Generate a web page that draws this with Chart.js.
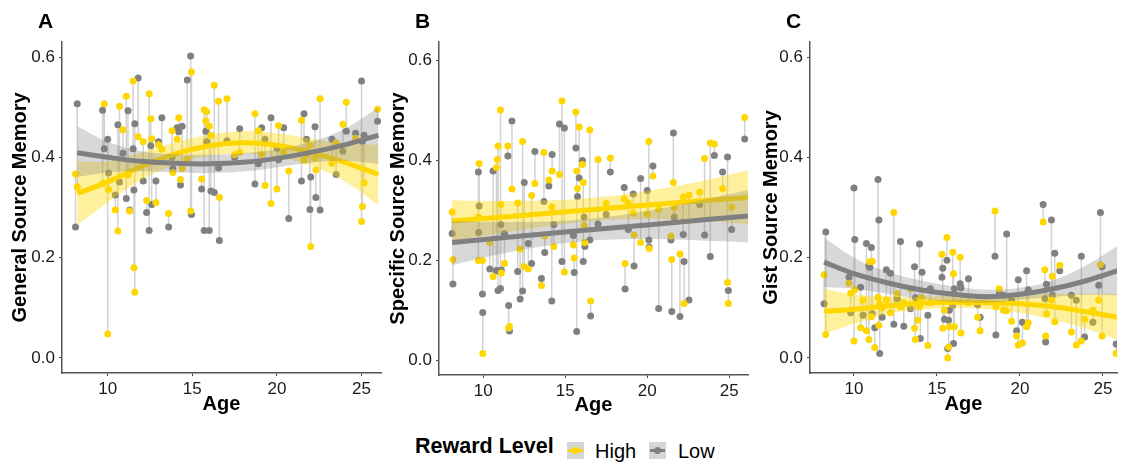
<!DOCTYPE html>
<html>
<head>
<meta charset="utf-8">
<script src="https://cdn.jsdelivr.net/npm/chart.js@4/dist/chart.umd.min.js"></script>
<style>
  body { margin: 0; width: 1121px; height: 464px; background: #fff; position: relative; overflow: hidden;
         font-family: "Liberation Sans", Arial, sans-serif; color: #000; }
  canvas { position: absolute; top: 0; }
  .tag { position: absolute; top: 10px; font-weight: bold; font-size: 21px; line-height: 1; }
  .leg { position: absolute; font-size: 20px; line-height: 1; }
  .key { position: absolute; top: 442px; width: 17px; height: 17px; background: #d6d6d6; }
  .key span { position: absolute; left: 1px; right: 1px; top: 7px; height: 3px; }
  .key i { position: absolute; left: 5px; top: 5px; width: 7px; height: 7px; border-radius: 50%; }
</style>
</head>
<body>
<canvas id="chartA" width="385" height="420" style="left:0px"></canvas>
<canvas id="chartB" width="372" height="420" style="left:380px"></canvas>
<canvas id="chartC" width="369" height="420" style="left:752px"></canvas>
<div class="tag" style="left:38px">A</div>
<div class="tag" style="left:415px">B</div>
<div class="tag" style="left:786px">C</div>
<div class="leg" style="left:415px;top:436px;font-weight:bold;font-size:21.5px">Reward Level</div>
<div class="key" style="left:567px"><span style="background:#FFD700"></span><i style="background:#FFD700"></i></div>
<div class="leg" style="left:595px;top:441px">High</div>
<div class="key" style="left:649px"><span style="background:#808080"></span><i style="background:#808080"></i></div>
<div class="leg" style="left:678px;top:441px">Low</div>
<script>
// tick labels
const AGE_TICKS = [10, 15, 20, 25];
const MEM_TICKS = [0, 0.2, 0.4, 0.6];

// Panel A - General source memory (one entry per participant)
const agesA = [8.2, 8.1, 9.7, 9.8, 10.0, 10.05, 10.45, 10.6, 10.7, 10.9, 11.1, 11.2, 11.3, 11.5, 11.55, 11.6, 11.8,
  12.1, 12.3, 12.45, 12.55, 12.6, 12.85, 13.0, 13.2, 13.6, 13.8, 13.85, 14.1, 14.2, 14.3, 14.4, 14.7, 14.9, 14.95,
  15.55, 15.7, 15.8, 15.85, 16.0, 16.1, 16.3, 16.55, 16.6, 17.05, 17.5, 17.8, 18.7, 18.9, 19.1, 19.3, 19.65, 20.0,
  20.1, 20.4, 20.7, 21.45, 21.6, 21.75, 21.95, 22.0, 22.25, 22.3, 22.55, 23.25, 23.5, 23.9, 24.1, 24.65, 25.0, 25.05,
  25.15, 25.95];
const highA = [0.341, 0.367, 0.348, 0.507, 0.048, 0.336, 0.295, 0.253, 0.502, 0.455, 0.522, 0.365, 0.293, 0.552, 0.180,
  0.131, 0.441, 0.431, 0.314, 0.527, 0.477, 0.437, 0.310, 0.425, 0.416, 0.288, 0.453, 0.370, 0.436, 0.479, 0.356,
  0.378, 0.396, 0.293, 0.570, 0.357, 0.495, 0.473, 0.491, 0.462, 0.444, 0.544, 0.512, 0.320, 0.517, 0.405, 0.410,
  0.487, 0.453, 0.406, 0.344, 0.308, 0.337, 0.463, 0.410, 0.373, 0.474, 0.394, 0.405, 0.424, 0.222, 0.398, 0.375,
  0.517, 0.388, 0.429, 0.466, 0.510, 0.438, 0.272, 0.302, 0.349, 0.496];
const lowA = [0.507, 0.261, 0.494, 0.417, 0.436, 0.369, 0.325, 0.465, 0.351, 0.408, 0.318, 0.493, 0.295, 0.417, 0.335,
  0.467, 0.558, 0.353, 0.290, 0.254, 0.423, 0.306, 0.353, 0.431, 0.479, 0.261, 0.400, 0.378, 0.459, 0.451, 0.345,
  0.462, 0.554, 0.602, 0.286, 0.337, 0.254, 0.452, 0.431, 0.254, 0.333, 0.330, 0.379, 0.234, 0.433, 0.400, 0.457,
  0.347, 0.387, 0.459, 0.436, 0.479, 0.418, 0.395, 0.459, 0.278, 0.353, 0.487, 0.436, 0.296, 0.361, 0.461, 0.320,
  0.295, 0.436, 0.366, 0.412, 0.452, 0.448, 0.552, 0.432, 0.444, 0.472];
const fitAgesA = [8.2, 10, 12, 14, 16, 18, 20, 22, 24, 26];
const fitHighA = [0.328, 0.351, 0.382, 0.407, 0.423, 0.429, 0.424, 0.410, 0.390, 0.366];
const fitHighLoA = [0.265, 0.310, 0.355, 0.385, 0.403, 0.407, 0.400, 0.383, 0.352, 0.305];
const fitHighUpA = [0.392, 0.392, 0.410, 0.430, 0.445, 0.452, 0.448, 0.437, 0.428, 0.425];
const fitLowA = [0.409, 0.400, 0.392, 0.388, 0.387, 0.390, 0.398, 0.410, 0.425, 0.444];
const fitLowLoA = [0.361, 0.370, 0.372, 0.370, 0.369, 0.372, 0.380, 0.389, 0.393, 0.387];
const fitLowUpA = [0.462, 0.431, 0.412, 0.406, 0.405, 0.408, 0.416, 0.431, 0.457, 0.500];

// Panel B - Specific source memory
const agesB = [8.1, 8.15, 9.7, 9.72, 9.75, 9.95, 9.97, 10.4, 10.6, 10.8, 10.85, 10.9, 11.05, 11.07, 11.1, 11.3, 11.5,
  11.55, 11.6, 11.75, 12.1, 12.25, 12.4, 12.5, 12.75, 12.95, 13.15, 13.55, 13.7, 13.75, 14.0, 14.2, 14.18, 14.3,
  14.65, 14.8, 14.95, 15.5, 15.55, 15.65, 15.7, 15.75, 15.85, 16.05, 16.1, 16.15, 16.2, 16.5, 16.55, 17.0, 17.5,
  17.75, 18.6, 18.65, 18.85, 19.15, 19.2, 19.6, 20.0, 20.1, 20.12, 20.35, 20.7, 21.45, 21.5, 21.6, 21.65, 22.0,
  22.2, 22.25, 22.55, 23.2, 23.5, 23.85, 24.1, 24.6, 24.9, 24.95, 25.15, 25.95];
const highB = [0.296, 0.201, 0.199, 0.286, 0.393, 0.199, 0.013, 0.235, 0.167, 0.385, 0.401, 0.428, 0.500, 0.311, 0.174,
  0.193, 0.428, 0.064, 0.067, 0.342, 0.314, 0.222, 0.437, 0.187, 0.182, 0.329, 0.353, 0.149, 0.415, 0.248, 0.360,
  0.378, 0.306, 0.227, 0.371, 0.518, 0.176, 0.230, 0.204, 0.496, 0.378, 0.343, 0.466, 0.391, 0.355, 0.269, 0.235,
  0.460, 0.118, 0.401, 0.313, 0.404, 0.322, 0.193, 0.314, 0.294, 0.250, 0.235, 0.292, 0.437, 0.223, 0.368, 0.301,
  0.248, 0.201, 0.355, 0.305, 0.212, 0.326, 0.113, 0.330, 0.336, 0.403, 0.434, 0.432, 0.343, 0.155, 0.113, 0.306,
  0.485];
const lowB = [0.253, 0.152, 0.376, 0.255, 0.308, 0.132, 0.095, 0.182, 0.378, 0.179, 0.178, 0.139, 0.143, 0.271, 0.180,
  0.253, 0.408, 0.109, 0.058, 0.478, 0.177, 0.122, 0.138, 0.355, 0.233, 0.193, 0.417, 0.163, 0.317, 0.215, 0.348,
  0.411, 0.118, 0.271, 0.472, 0.197, 0.464, 0.249, 0.175, 0.424, 0.057, 0.327, 0.364, 0.399, 0.197, 0.286, 0.227,
  0.240, 0.088, 0.272, 0.291, 0.376, 0.345, 0.142, 0.261, 0.332, 0.188, 0.363, 0.339, 0.240, 0.226, 0.388, 0.103,
  0.240, 0.097, 0.454, 0.286, 0.087, 0.251, 0.197, 0.120, 0.311, 0.250, 0.207, 0.409, 0.376, 0.406, 0.139, 0.261,
  0.442];
const fitAgesB = [8.1, 12, 16, 20, 24, 26.2];
const fitHighB = [0.278, 0.288, 0.299, 0.310, 0.320, 0.325];
const fitHighLoB = [0.238, 0.258, 0.276, 0.282, 0.277, 0.272];
const fitHighUpB = [0.319, 0.318, 0.323, 0.338, 0.363, 0.380];
const fitLowB = [0.235, 0.247, 0.259, 0.270, 0.282, 0.288];
const fitLowLoB = [0.190, 0.218, 0.237, 0.242, 0.238, 0.235];
const fitLowUpB = [0.278, 0.276, 0.281, 0.298, 0.325, 0.340];

// Panel C - Gist source memory
const agesC = [8.2, 8.3, 9.7, 9.8, 10.0, 10.05, 10.4, 10.55, 10.75, 10.9, 10.95, 11.05, 11.1, 11.25, 11.45, 11.5, 11.55,
  11.7, 11.95, 12.2, 12.4, 12.6, 12.8, 13.0, 13.4, 13.65, 13.7, 13.85, 13.95, 14.0, 14.1, 14.45, 14.6, 15.3, 15.35,
  15.45, 15.6, 15.65, 15.7, 15.75, 15.95, 16.0, 16.05, 16.4, 16.45, 16.9, 17.45, 17.6, 18.5, 18.55, 18.75, 19.0,
  19.2, 19.5, 19.8, 19.9, 20.15, 20.4, 20.5, 21.4, 21.5, 21.55, 21.6, 21.9, 21.95, 22.1, 22.4, 23.1, 23.4, 23.7,
  23.9, 24.4, 24.75, 24.85, 24.95, 25.8];
const highC = [0.166, 0.047, 0.149, 0.129, 0.034, 0.136, 0.060, 0.115, 0.054, 0.037, 0.192, 0.082, 0.193, 0.021, 0.121,
  0.065, 0.108, 0.100, 0.116, 0.090, 0.290, 0.128, 0.102, 0.110, 0.138, 0.059, 0.037, 0.075, 0.102, 0.118, 0.120,
  0.025, 0.110, 0.207, 0.059, 0.095, 0.240, 0.000, 0.022, 0.062, 0.211, 0.168, 0.062, 0.201, 0.050, 0.110, 0.081,
  0.054, 0.293, 0.102, 0.138, 0.095, 0.094, 0.073, 0.044, 0.026, 0.030, 0.062, 0.070, 0.271, 0.176, 0.044, 0.088,
  0.115, 0.163, 0.072, 0.185, 0.052, 0.026, 0.034, 0.077, 0.095, 0.115, 0.186, 0.044, 0.009];
const lowC = [0.108, 0.251, 0.161, 0.090, 0.339, 0.236, 0.141, 0.085, 0.228, 0.184, 0.181, 0.220, 0.088, 0.060, 0.356,
  0.275, 0.009, 0.081, 0.176, 0.169, 0.067, 0.118, 0.232, 0.063, 0.098, 0.182, 0.120, 0.115, 0.227, 0.039, 0.171,
  0.085, 0.138, 0.161, 0.179, 0.077, 0.195, 0.019, 0.075, 0.095, 0.105, 0.029, 0.138, 0.148, 0.140, 0.158, 0.106,
  0.081, 0.203, 0.046, 0.128, 0.125, 0.247, 0.115, 0.054, 0.156, 0.071, 0.174, 0.136, 0.306, 0.118, 0.032, 0.147,
  0.275, 0.125, 0.209, 0.174, 0.125, 0.115, 0.203, 0.042, 0.071, 0.145, 0.290, 0.182, 0.028];
const fitAgesC = [8.2, 10, 12, 14, 16, 18, 20, 22, 24, 25.9];
const fitHighC = [0.093, 0.097, 0.104, 0.109, 0.111, 0.110, 0.108, 0.102, 0.092, 0.081];
const fitHighLoC = [0.048, 0.068, 0.087, 0.096, 0.099, 0.097, 0.090, 0.076, 0.058, 0.036];
const fitHighUpC = [0.138, 0.127, 0.122, 0.122, 0.124, 0.123, 0.126, 0.128, 0.128, 0.128];
const fitLowC = [0.191, 0.168, 0.150, 0.136, 0.127, 0.122, 0.127, 0.138, 0.154, 0.174];
const fitLowLoC = [0.141, 0.138, 0.128, 0.118, 0.112, 0.110, 0.116, 0.122, 0.126, 0.125];
const fitLowUpC = [0.240, 0.200, 0.172, 0.155, 0.143, 0.136, 0.140, 0.155, 0.185, 0.224];

const YELLOW = "#FFD700";
const GREY = "#808080";

function pts(xs, ys) {
    return xs.map((x, i) => ({x: x, y: ys[i]}));
}

function makePanel(id, p) {
    // vertical segments joining each participant's High and Low score
    const segs = [];
    p.ages.forEach((a, i) => {
        segs.push({x: a, y: p.high[i]}, {x: a, y: p.low[i]}, {x: a, y: null});
    });
    const band = {showLine: true, pointRadius: 0, borderWidth: 0, tension: 0.4};
    const datasets = [
        // yellow ribbon + line (drawn below the grey ones)
        Object.assign({data: pts(p.fitAges, p.highLo), fill: false, order: 3}, band),
        Object.assign({data: pts(p.fitAges, p.highUp), fill: 0, backgroundColor: "rgba(255,215,0,0.38)", order: 3}, band),
        {data: pts(p.fitAges, p.highFit), showLine: true, pointRadius: 0, borderColor: YELLOW, borderWidth: 5,
         tension: 0.4, order: 2},
        Object.assign({data: pts(p.fitAges, p.lowLo), fill: false, order: 1}, band),
        Object.assign({data: pts(p.fitAges, p.lowUp), fill: 3, backgroundColor: "rgba(128,128,128,0.31)", order: 1}, band),
        {data: pts(p.fitAges, p.lowFit), showLine: true, pointRadius: 0, borderColor: GREY, borderWidth: 5,
         tension: 0.4, order: 0},
        // raw scores
        {data: pts(p.ages, p.high), pointRadius: 3.5, pointBackgroundColor: YELLOW, pointBorderWidth: 0, order: 4},
        {data: pts(p.ages, p.low), pointRadius: 3.5, pointBackgroundColor: GREY, pointBorderWidth: 0, order: 4},
        {data: segs, showLine: true, spanGaps: false, pointRadius: 0, borderColor: "#d2d2d2", borderWidth: 1.5, order: 5},
    ];
    const axisGrid = {drawOnChartArea: false, drawTicks: true, tickLength: 3, color: "#444", lineWidth: 1};
    const axisBorder = {display: true, color: "#555", width: 1.5};
    new Chart(document.getElementById(id).getContext("2d"), {
        type: "scatter",
        data: {datasets: datasets},
        options: {
            responsive: false,
            animation: false,
            events: [],
            layout: {padding: {left: 0, right: p.padRight, top: 42, bottom: 0}},
            plugins: {legend: {display: false}, tooltip: {enabled: false}},
            scales: {
                x: {
                    type: "linear", min: p.xMin, max: p.xMax,
                    grid: axisGrid, border: axisBorder,
                    afterBuildTicks: s => { s.ticks = AGE_TICKS.map(v => ({value: v})); },
                    afterFit: s => { s.height = p.xh; },
                    ticks: {color: "#1a1a1a", font: {size: 17, family: "Liberation Sans"}, padding: 3,
                            maxRotation: 0, callback: v => String(v)},
                    title: {display: true, text: "Age", color: "#000", padding: {top: 0, bottom: p.xTitlePad},
                            font: {size: 20, weight: "bold", family: "Liberation Sans"}},
                },
                y: {
                    type: "linear", min: -0.03, max: p.yMax,
                    grid: axisGrid, border: axisBorder,
                    afterBuildTicks: s => { s.ticks = MEM_TICKS.map(v => ({value: v})); },
                    afterFit: s => { s.width = p.yw; },
                    ticks: {color: "#1a1a1a", font: {size: 17, family: "Liberation Sans"}, padding: 4,
                            callback: v => v.toFixed(1)},
                    title: {display: true, text: p.title, color: "#000", padding: {top: p.yTitlePad, bottom: 0},
                            font: {size: 20, weight: "bold", family: "Liberation Sans"}},
                },
            },
        },
    });
}

makePanel("chartA", {
    ages: agesA, high: highA, low: lowA, fitAges: fitAgesA,
    highFit: fitHighA, highLo: fitHighLoA, highUp: fitHighUpA,
    lowFit: fitLowA, lowLo: fitLowLoA, lowUp: fitLowUpA,
    title: "General Source Memory", xMin: 7.3, xMax: 26.15, yMax: 0.63,
    yw: 62, padRight: 2, xh: 47, yTitlePad: 8, xTitlePad: 4,
});
makePanel("chartB", {
    ages: agesB, high: highB, low: lowB, fitAges: fitAgesB,
    highFit: fitHighB, highLo: fitHighLoB, highUp: fitHighUpB,
    lowFit: fitLowB, lowLo: fitLowLoB, lowUp: fitLowUpB,
    title: "Specific Source Memory", xMin: 7.3, xMax: 26.15, yMax: 0.636,
    yw: 59, padRight: 0, xh: 45, yTitlePad: 6, xTitlePad: 3,
});
makePanel("chartC", {
    ages: agesC, high: highC, low: lowC, fitAges: fitAgesC,
    highFit: fitHighC, highLo: fitHighLoC, highUp: fitHighUpC,
    lowFit: fitLowC, lowLo: fitLowLoC, lowUp: fitLowUpC,
    title: "Gist Source Memory", xMin: 7.35, xMax: 25.85, yMax: 0.63,
    yw: 58, padRight: 0, xh: 47, yTitlePad: 7, xTitlePad: 4,
});
</script>
</body>
</html>
